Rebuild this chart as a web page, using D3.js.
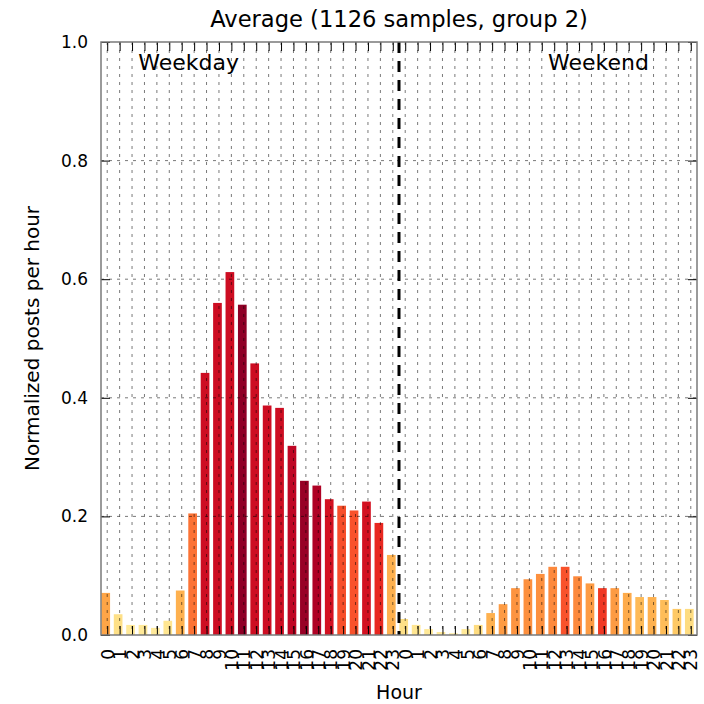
<!DOCTYPE html>
<html>
<head>
<meta charset="utf-8">
<script src="https://cdn.jsdelivr.net/npm/d3@7"></script>
<style>
  html, body { margin: 0; padding: 0; background: #fff; }
  svg { display: block; font-family: "DejaVu Sans", sans-serif; }
</style>
</head>
<body>
<svg id="chart" width="704" height="704"></svg>
<script>
// Hour-of-day labels for each half of the week
const hourLabels = ["0","1","2","3","4","5","6","7","8","9","10","11",
                    "12","13","14","15","16","17","18","19","20","21","22","23"];

// Normalized posts per hour (average over 1126 samples, group 2)
const weekday = [0.071, 0.035, 0.017, 0.017, 0.012, 0.024, 0.075, 0.205,
                 0.442, 0.560, 0.612, 0.557, 0.458, 0.387, 0.383, 0.319,
                 0.260, 0.252, 0.229, 0.218, 0.210, 0.225, 0.189, 0.135];
const weekend = [0.027, 0.017, 0.010, 0.005, 0.003, 0.010, 0.017, 0.037,
                 0.052, 0.079, 0.094, 0.103, 0.115, 0.115, 0.099, 0.087,
                 0.079, 0.079, 0.071, 0.064, 0.064, 0.059, 0.044, 0.044];

// Relative activity intensity per hour, drives the bar colour
const weekdayShade = [0.42, 0.20, 0.15, 0.15, 0.14, 0.17, 0.38, 0.55,
                      0.82, 0.82, 0.82, 0.97, 0.82, 0.82, 0.82, 0.86,
                      0.95, 0.90, 0.80, 0.63, 0.62, 0.80, 0.72, 0.38];
const weekendShade = [0.20, 0.17, 0.15, 0.14, 0.13, 0.15, 0.22, 0.38,
                      0.45, 0.47, 0.48, 0.48, 0.50, 0.62, 0.50, 0.45,
                      0.68, 0.45, 0.40, 0.35, 0.38, 0.34, 0.30, 0.22];

const yTicks = [0, 0.2, 0.4, 0.6, 0.8, 1.0];
const titleText = "Average (1126 samples, group 2)";

const values = weekday.concat(weekend);
const shades = weekdayShade.concat(weekendShade);
const labels = hourLabels.concat(hourLabels);

const svg = d3.select("#chart");
const plotL = 101, plotR = 697, plotT = 42, plotB = 635;

const x = d3.scaleLinear().domain([0, values.length]).range([plotL, plotR]);
const y = d3.scaleLinear().domain([0, 1]).range([plotB, plotT]);
const color = d3.scaleSequential(d3.interpolateYlOrRd).domain([0, 1]);

const tickPos = values.map((_, i) => i + 0.5);
const barOffset = 0.03, barWidth = 0.7;

// Bars
svg.append("g").selectAll("rect")
  .data(values)
  .join("rect")
  .attr("x", (d, i) => x(i + barOffset))
  .attr("width", x(barWidth) - x(0))
  .attr("y", d => y(d))
  .attr("height", d => y(0) - y(d))
  .attr("fill", (d, i) => color(shades[i]));

// Dotted grid drawn over the bars
const grid = svg.append("g")
  .attr("stroke", "#000")
  .attr("stroke-width", 0.7)
  .attr("stroke-dasharray", "3,5")
  .attr("opacity", 0.75);
grid.selectAll("line.v")
  .data(tickPos)
  .join("line")
  .attr("class", "v")
  .attr("x1", d => x(d)).attr("x2", d => x(d))
  .attr("y1", plotT).attr("y2", plotB);
grid.selectAll("line.h")
  .data(yTicks.slice(1, -1))
  .join("line")
  .attr("class", "h")
  .attr("x1", plotL).attr("x2", plotR)
  .attr("y1", d => y(d)).attr("y2", d => y(d));

// Divider between weekday and weekend
svg.append("line")
  .attr("x1", x(weekday.length)).attr("x2", x(weekday.length))
  .attr("y1", plotT).attr("y2", plotB)
  .attr("stroke", "#000")
  .attr("stroke-width", 3)
  .attr("stroke-dasharray", "11,8");

// Axes with inward ticks
const tickLen = 9;
const fmtY = d3.format(".1f");

const xAxisBottom = svg.append("g")
  .attr("transform", `translate(0,${plotB})`)
  .call(d3.axisBottom(x).tickValues(tickPos)
    .tickFormat((d, i) => labels[i])
    .tickSizeInner(-tickLen).tickSizeOuter(0));
xAxisBottom.selectAll(".tick text")
  .attr("transform", "rotate(-90)")
  .attr("text-anchor", "end")
  .attr("x", -14)
  .attr("y", 0)
  .attr("dy", "0.36em")
  .attr("font-size", 17)
  .attr("font-family", "DejaVu Sans")
  .attr("fill", "#000");

svg.append("g")
  .attr("transform", `translate(0,${plotT})`)
  .call(d3.axisTop(x).tickValues(tickPos).tickFormat("")
    .tickSizeInner(-tickLen).tickSizeOuter(0));

svg.append("g")
  .attr("transform", `translate(${plotL},0)`)
  .call(d3.axisLeft(y).tickValues(yTicks).tickFormat(fmtY)
    .tickSizeInner(-tickLen).tickSizeOuter(0).tickPadding(13))
  .selectAll(".tick text")
  .attr("font-size", 17)
  .attr("font-family", "DejaVu Sans")
  .attr("fill", "#000");

svg.append("g")
  .attr("transform", `translate(${plotR},0)`)
  .call(d3.axisRight(y).tickValues(yTicks).tickFormat("")
    .tickSizeInner(-tickLen).tickSizeOuter(0));

svg.selectAll(".domain").remove();
svg.selectAll(".tick line").attr("stroke", "#000").attr("stroke-width", 1);

// Frame
svg.append("rect")
  .attr("x", plotL).attr("y", plotT)
  .attr("width", plotR - plotL).attr("height", plotB - plotT)
  .attr("fill", "none")
  .attr("stroke", "#7a7a7a")
  .attr("stroke-width", 1.5);

// Section labels
svg.append("text")
  .attr("x", x(3.0)).attr("y", 70)
  .attr("font-size", 22)
  .attr("fill", "#000")
  .text("Weekday");
svg.append("text")
  .attr("x", x(36)).attr("y", 70)
  .attr("font-size", 22)
  .attr("fill", "#000")
  .text("Weekend");

// Title and axis titles
svg.append("text")
  .attr("x", (plotL + plotR) / 2).attr("y", 27)
  .attr("text-anchor", "middle")
  .attr("font-size", 22.6)
  .attr("fill", "#000")
  .text(titleText);

svg.append("text")
  .attr("x", (plotL + plotR) / 2).attr("y", 699)
  .attr("text-anchor", "middle")
  .attr("font-size", 19)
  .attr("fill", "#000")
  .text("Hour");

svg.append("text")
  .attr("transform", `translate(39,${(plotT + plotB) / 2}) rotate(-90)`)
  .attr("text-anchor", "middle")
  .attr("font-size", 20)
  .attr("fill", "#000")
  .text("Normalized posts per hour");
</script>
</body>
</html>
